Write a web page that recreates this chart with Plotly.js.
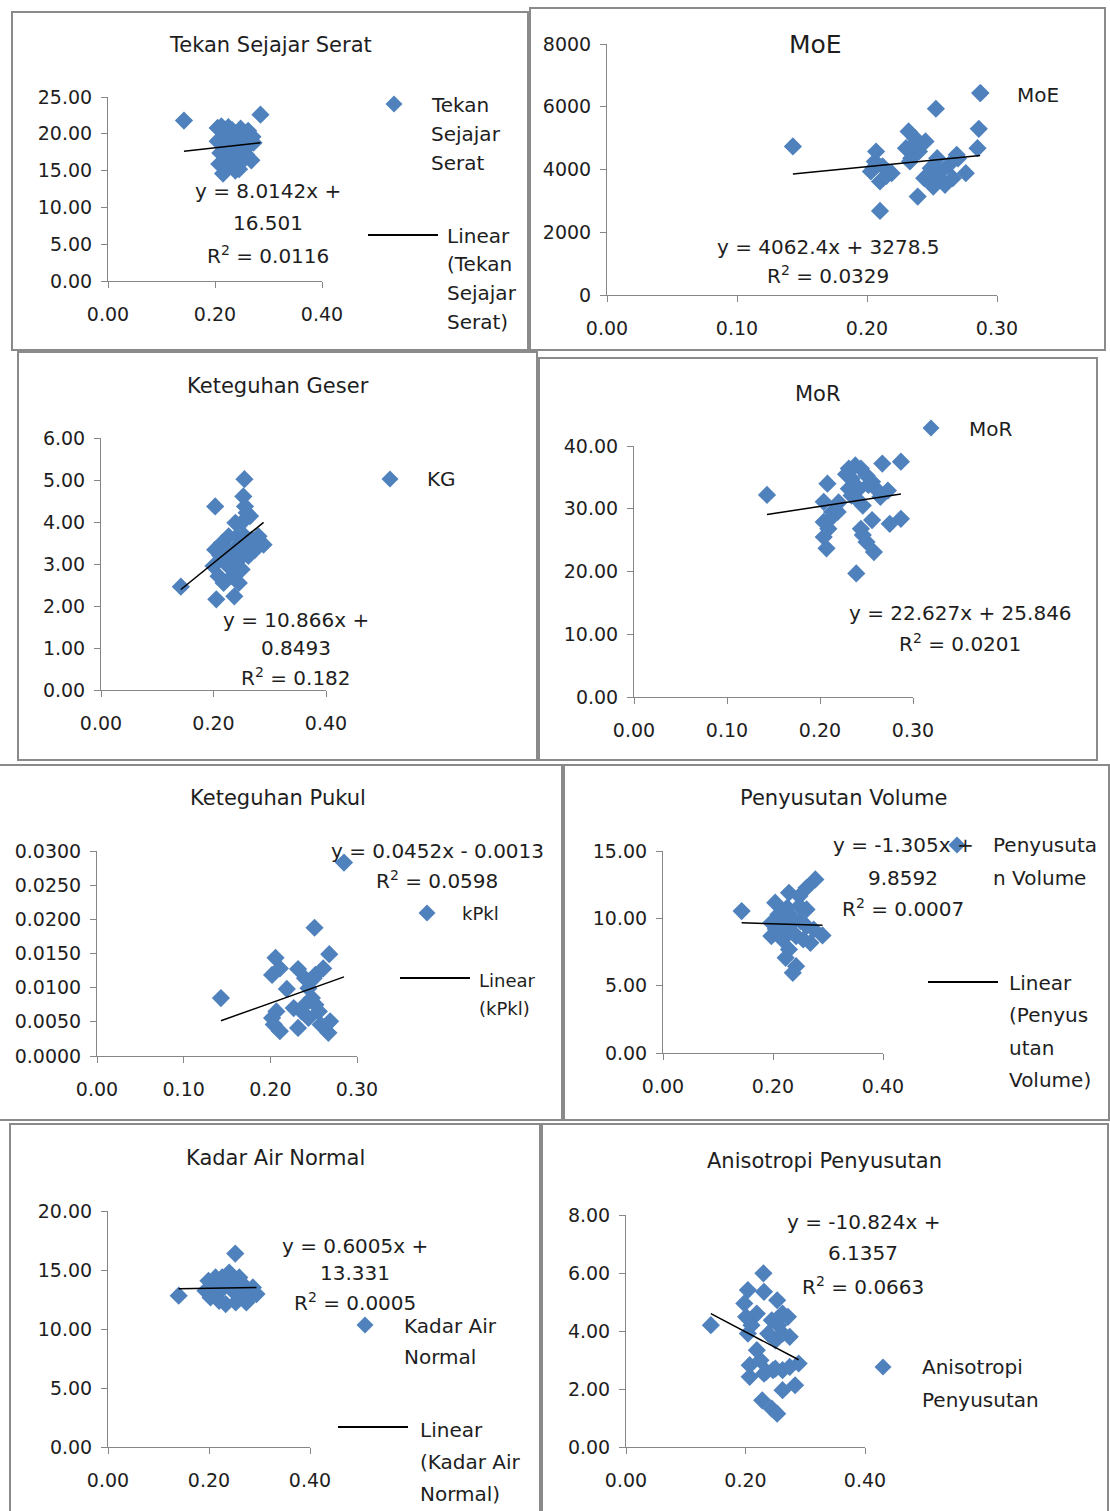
<!DOCTYPE html>
<html><head><meta charset="utf-8">
<script src="https://cdn.plot.ly/plotly-3.0.1.min.js"></script>
<style>html,body{margin:0;padding:0;background:#fff}#c{width:1110px;height:1511px}</style>
</head><body><div id="c"></div>
<script>
// ---------- DATA ----------
const tssX=[0.142,0.285,0.205,0.212,0.218,0.225,0.232,0.240,0.248,0.255,0.262,0.270,0.205,0.215,0.228,0.238,0.250,0.260,0.272,0.210,0.222,0.235,0.245,0.258,0.268,0.208,0.220,0.232,0.245,0.255,0.215,0.238,0.225,0.245,0.230,0.260];
const tssY=[21.8,22.6,20.8,21.0,20.2,20.9,20.5,20.1,20.7,19.9,20.4,19.6,19.0,18.6,19.3,18.4,18.9,18.2,18.8,17.4,17.0,17.6,16.8,17.2,16.4,15.9,15.5,16.1,15.2,16.6,14.6,15.0,18.0,17.9,19.7,19.5];
const moeX=[0.143,0.287,0.253,0.286,0.285,0.210,0.276,0.219,0.206,0.210,0.203,0.207,0.232,0.237,0.245,0.234,0.240,0.239,0.244,0.251,0.260,0.254,0.263,0.269,0.257,0.249,0.230,0.233,0.266,0.212,0.215,0.205,0.248,0.255,0.270,0.236];
const moeY=[4734,6436,5936,5298,4681,2681,3883,3883,4255,3617,3936,4574,5213,5000,4894,4361,4574,3138,3723,3457,3510,4361,4149,4468,3936,4042,4681,4255,3723,4100,3800,4050,3800,3650,4350,4800];
const kgX=[0.142,0.205,0.203,0.255,0.253,0.256,0.259,0.250,0.239,0.237,0.245,0.250,0.289,0.280,0.274,0.262,0.203,0.200,0.209,0.221,0.215,0.227,0.236,0.242,0.256,0.268,0.227,0.233,0.218,0.265,0.250,0.225,0.245,0.230,0.260,0.212];
const kgY=[2.46,2.16,4.37,5.02,4.61,4.37,4.22,3.98,3.98,2.23,2.55,2.87,3.46,3.66,3.34,3.19,3.34,2.95,2.71,3.03,3.50,3.66,3.34,3.66,3.66,3.58,3.19,2.71,2.55,4.14,3.42,3.30,3.10,2.90,3.50,3.20];
const morX=[0.143,0.208,0.267,0.287,0.239,0.207,0.204,0.209,0.204,0.204,0.213,0.219,0.211,0.231,0.238,0.244,0.234,0.250,0.256,0.231,0.242,0.260,0.265,0.234,0.246,0.273,0.256,0.246,0.250,0.258,0.275,0.287,0.244,0.228,0.252,0.240,0.220];
const morY=[32.2,34.0,37.2,37.5,19.7,23.7,25.5,26.8,27.9,31.1,29.5,29.5,28.4,36.4,36.9,36.4,34.8,35.3,34.3,33.2,33.2,33.2,31.9,32.1,30.5,32.9,28.2,25.8,24.7,23.1,27.6,28.4,26.8,35.5,33.8,31.5,31.0];
const kpkX=[0.143,0.285,0.251,0.268,0.206,0.202,0.211,0.219,0.232,0.240,0.252,0.261,0.244,0.207,0.204,0.211,0.232,0.227,0.236,0.244,0.252,0.258,0.267,0.269,0.248,0.256,0.240,0.202,0.250];
const kpkY=[0.00847,0.0283,0.01877,0.0149,0.01437,0.01186,0.01282,0.00982,0.01273,0.01137,0.01186,0.01282,0.00992,0.00653,0.0046,0.00363,0.00411,0.00702,0.00653,0.00556,0.0075,0.0046,0.00339,0.00508,0.00847,0.00653,0.0075,0.00556,0.01137];
const pvX=[0.143,0.277,0.261,0.248,0.229,0.204,0.210,0.226,0.248,0.261,0.197,0.217,0.236,0.261,0.197,0.217,0.242,0.268,0.290,0.274,0.229,0.223,0.236,0.242,0.255,0.207,0.223,0.215,0.235,0.250,0.230,0.205];
const pvY=[10.54,12.89,12.27,11.65,11.90,11.16,10.29,10.79,10.91,10.66,9.67,9.42,9.67,9.42,8.68,8.43,8.68,8.18,8.73,9.17,7.69,7.07,5.95,6.45,8.43,8.93,10.41,10.0,9.0,9.8,10.3,9.2];
const kanX=[0.140,0.252,0.240,0.226,0.199,0.213,0.267,0.287,0.294,0.280,0.193,0.203,0.220,0.233,0.253,0.274,0.247,0.226,0.213,0.260,0.267,0.240,0.206,0.230,0.250,0.210,0.270,0.245];
const kanY=[12.82,16.39,14.79,14.37,14.08,14.37,13.80,13.52,12.96,12.68,13.24,12.68,12.39,12.11,12.25,12.25,13.24,13.38,13.52,14.37,13.10,14.08,13.10,13.6,13.6,12.9,12.9,14.5];
const apX=[0.142,0.230,0.231,0.204,0.198,0.201,0.204,0.219,0.253,0.262,0.271,0.244,0.238,0.250,0.274,0.262,0.207,0.207,0.225,0.231,0.246,0.262,0.274,0.289,0.283,0.262,0.228,0.244,0.253,0.219,0.210,0.255,0.250,0.235];
const apY=[4.20,5.99,5.35,5.41,4.95,4.49,3.91,4.60,5.06,4.60,4.49,4.37,3.91,3.68,3.80,3.91,2.82,2.42,2.99,2.53,2.65,2.65,2.76,2.88,2.13,1.96,1.61,1.32,1.15,3.34,4.20,4.20,2.70,2.60];

// trendline equations shown on the chart (slope, intercept)
const slopes=[8.0142,4062.4,10.866,22.627,0.0452,-1.305,0.6005,-10.824];
const intercepts=[16.501,3278.5,0.8493,25.846,-0.0013,9.8592,13.331,6.1357];

// tick values
const ticksX3=[0,0.1,0.2,0.3];
const ticksX2=[0,0.2,0.4];
const tssYT=[0,5,10,15,20,25];
const moeYT=[0,2000,4000,6000,8000];
const kgYT=[0,1,2,3,4,5,6];
const morYT=[0,10,20,30,40];
const kpkYT=[0,0.005,0.01,0.015,0.02,0.025,0.03];
const pvYT=[0,5,10,15];
const kanYT=[0,5,10,15,20];
const apYT=[0,2,4,6,8];

// ---------- LAYOUT ----------
const W=1110,H=1511,BLUE='#4F81BD',FONT='DejaVu Sans, Verdana, sans-serif',TXT='#1e1e1e';
const fx=p=>p/W, fy=p=>1-p/H;

const panels=[
 {x:tssX,y:tssY,xt:ticksX2,yt:tssYT,yf:'.2f',d:[108,322,97,281]},
 {x:moeX,y:moeY,xt:ticksX3,yt:moeYT,yf:'d',d:[607,997,44,295]},
 {x:kgX,y:kgY,xt:ticksX2,yt:kgYT,yf:'.2f',d:[101,326,438,690]},
 {x:morX,y:morY,xt:ticksX3,yt:morYT,yf:'.2f',d:[634,913,446,697]},
 {x:kpkX,y:kpkY,xt:ticksX3,yt:kpkYT,yf:'.4f',d:[97,357,851,1056]},
 {x:pvX,y:pvY,xt:ticksX2,yt:pvYT,yf:'.2f',d:[663,883,851,1053]},
 {x:kanX,y:kanY,xt:ticksX2,yt:kanYT,yf:'.2f',d:[108,310,1211,1447]},
 {x:apX,y:apY,xt:ticksX2,yt:apYT,yf:'.2f',d:[626,865,1215,1447]}
];

const data=[], layout={width:W,height:H,autosize:false,margin:{l:0,r:0,t:0,b:0},
  paper_bgcolor:'#fff',plot_bgcolor:'rgba(0,0,0,0)',showlegend:false,shapes:[],annotations:[]};

panels.forEach((p,i)=>{
  const n=i===0?'':String(i+1);
  const xa='x'+n, ya='y'+n;
  data.push({type:'scatter',mode:'markers',x:p.x,y:p.y,xaxis:xa,yaxis:ya,
    marker:{symbol:'diamond',size:14,color:BLUE,line:{width:0}},cliponaxis:false});
  const x0=Math.min(...p.x), x1=Math.max(...p.x);
  data.push({type:'scatter',mode:'lines',x:[x0,x1],y:[slopes[i]*x0+intercepts[i],slopes[i]*x1+intercepts[i]],
    xaxis:xa,yaxis:ya,line:{color:'#000',width:1.5}});
  const common={showline:true,linecolor:'#868686',linewidth:1,ticks:'outside',ticklen:6,tickcolor:'#868686',
    showgrid:false,zeroline:false,fixedrange:true,tickfont:{family:FONT,size:19,color:TXT},tickmode:'array'};
  layout['xaxis'+n]=Object.assign({},common,{domain:[fx(p.d[0]),fx(p.d[1])],range:[p.xt[0],p.xt[p.xt.length-1]],
    tickvals:p.xt,tickformat:'.2f',anchor:ya,ticklabelstandoff:10});
  layout['yaxis'+n]=Object.assign({},common,{domain:[fy(p.d[3]),fy(p.d[2])],range:[p.yt[0],p.yt[p.yt.length-1]],
    tickvals:p.yt,tickformat:p.yf,anchor:xa,ticklabelstandoff:5});
});

// frames
[[12,12,528,350],[530,8,1105,350],[18,352,537,760],[539,358,1097,760],
 [-2,765,562,1120],[564,765,1109,1120],[10,1124,540,1515],[542,1124,1108,1515]].forEach(r=>{
  layout.shapes.push({type:'rect',xref:'paper',yref:'paper',x0:fx(r[0]),x1:fx(r[2]),y0:fy(r[3]),y1:fy(r[1]),
    line:{color:'#8a8a8a',width:2},fillcolor:'rgba(0,0,0,0)',layer:'below'});
});

function txt(t,x,y,anchor,size){
  layout.annotations.push({xref:'paper',yref:'paper',x:fx(x),y:fy(y),text:t,showarrow:false,
    xanchor:anchor,yanchor:'middle',font:{family:FONT,size:size,color:TXT}});
}
function diamond(cx,cy){
  const h=8.5;
  layout.shapes.push({type:'path',xref:'paper',yref:'paper',
    path:`M ${fx(cx-h)},${fy(cy)} L ${fx(cx)},${fy(cy-h)} L ${fx(cx+h)},${fy(cy)} L ${fx(cx)},${fy(cy+h)} Z`,
    fillcolor:BLUE,line:{width:0},layer:'above'});
}
function lline(xa,xb,y){
  layout.shapes.push({type:'line',xref:'paper',yref:'paper',x0:fx(xa),x1:fx(xb),y0:fy(y),y1:fy(y),
    line:{color:'#000',width:2}});
}
const R2='R<sup>2</sup>';

// titles
txt('Tekan Sejajar Serat',270,45,'center',21);
txt('MoE',815,45,'center',25);
txt('Keteguhan Geser',278,386,'center',21);
txt('MoR',818,394,'center',21);
txt('Keteguhan Pukul',278,798,'center',21);
txt('Penyusutan Volume',843,798,'center',21);
txt('Kadar Air Normal',275,1158,'center',21);
txt('Anisotropi Penyusutan',824,1161,'center',21);

// panel 1
txt('y = 8.0142x +',268,191,'center',20); txt('16.501',268,223,'center',20); txt(R2+' = 0.0116',268,255,'center',20);
diamond(394,104); txt('Tekan',429,105,'left',20); txt('Sejajar',429,134,'left',20); txt('Serat',429,163,'left',20);
lline(368,438,235); txt('Linear',445,236,'left',20); txt('(Tekan',445,264,'left',20); txt('Sejajar',445,293,'left',20); txt('Serat)',445,322,'left',20);
// panel 2
txt('y = 4062.4x + 3278.5',828,247,'center',20); txt(R2+' = 0.0329',828,275,'center',20);
diamond(981,93); txt('MoE',1015,95,'left',20);
// panel 3
txt('y = 10.866x +',296,620,'center',20); txt('0.8493',296,648,'center',20); txt(R2+' = 0.182',296,677,'center',20);
diamond(390,479); txt('KG',425,479,'left',20);
// panel 4
txt('y = 22.627x + 25.846',960,613,'center',20); txt(R2+' = 0.0201',960,643,'center',20);
diamond(931,428); txt('MoR',967,429,'left',20);
// panel 5
txt('y = 0.0452x - 0.0013',437,851,'center',20); txt(R2+' = 0.0598',437,880,'center',20);
diamond(427,913); txt('kPkl',460,913,'left',18);
lline(400,470,978); txt('Linear',477,980,'left',18); txt('(kPkl)',477,1008,'left',18);
// panel 6
txt('y = -1.305x +',903,845,'center',20); txt('9.8592',903,878,'center',20); txt(R2+' = 0.0007',903,908,'center',20);
diamond(957,845); txt('Penyusuta',991,845,'left',20); txt('n Volume',991,878,'left',20);
lline(928,998,982); txt('Linear',1007,983,'left',20); txt('(Penyus',1007,1015,'left',20); txt('utan',1007,1048,'left',20); txt('Volume)',1007,1080,'left',20);
// panel 7
txt('y = 0.6005x +',355,1246,'center',20); txt('13.331',355,1273,'center',20); txt(R2+' = 0.0005',355,1302,'center',20);
diamond(365,1325); txt('Kadar Air',402,1326,'left',20); txt('Normal',402,1357,'left',20);
lline(338,408,1427); txt('Linear',418,1430,'left',20); txt('(Kadar Air',418,1462,'left',20); txt('Normal)',418,1494,'left',20);
// panel 8
txt('y = -10.824x +',863,1222,'center',20); txt('6.1357',863,1253,'center',20); txt(R2+' = 0.0663',863,1286,'center',20);
diamond(883,1367); txt('Anisotropi',920,1367,'left',20); txt('Penyusutan',920,1400,'left',20);

Plotly.newPlot('c',data,layout,{displayModeBar:false,staticPlot:true});
</script></body></html>
